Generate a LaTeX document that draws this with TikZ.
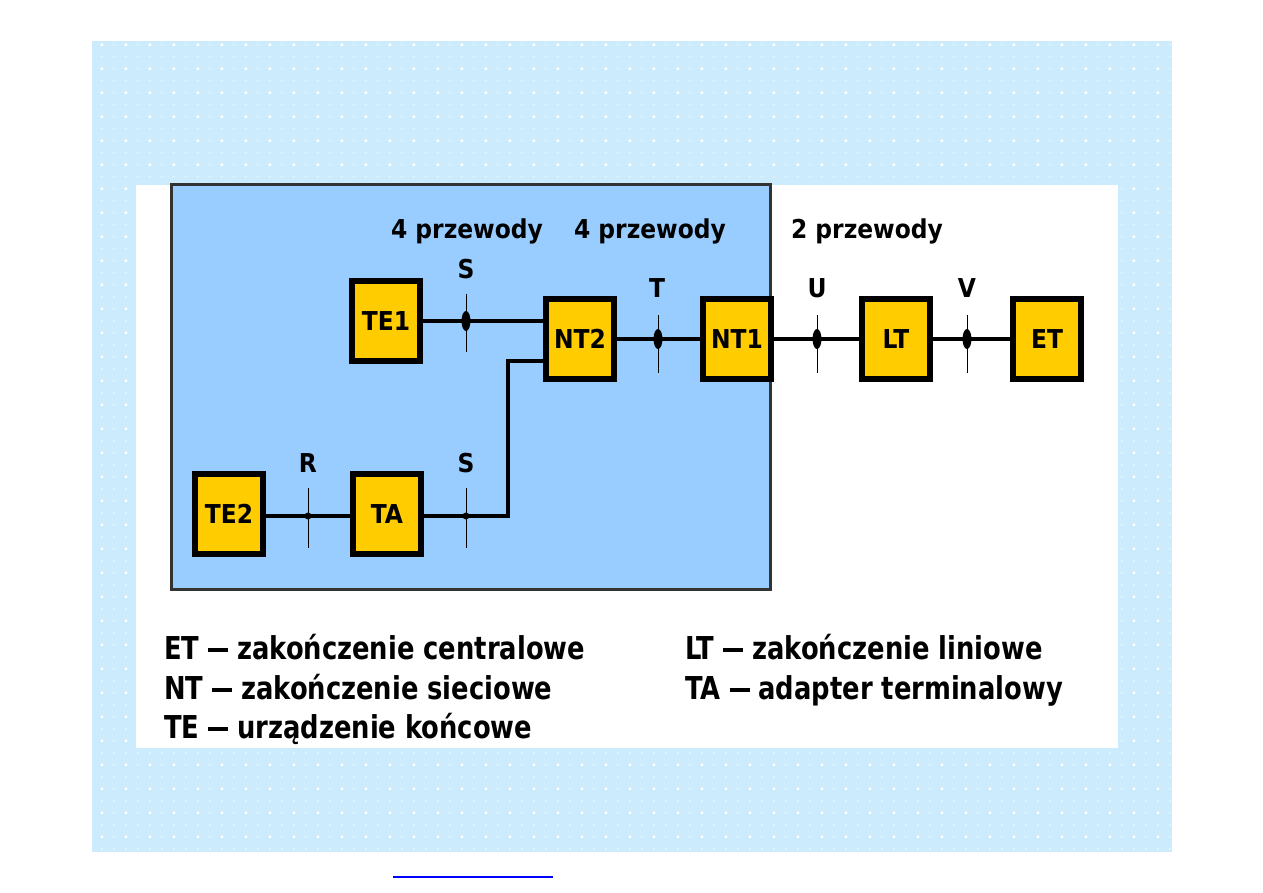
\documentclass[tikz,border=0pt]{standalone}
\usepackage{fontspec}
\setmainfont{DejaVu Sans Condensed}
\newfontfamily\keyfont[FakeStretch=0.91, Ligatures=TeX]{DejaVu Sans Condensed}
\newcommand\keydash{\rule[7.5pt]{20pt}{3.2pt}}
\definecolor{paleblue}{HTML}{CCEBFC}
\definecolor{boxblue}{HTML}{99CCFF}
\definecolor{isdnyellow}{HTML}{FFCC00}

\begin{document}
\begin{tikzpicture}[x=1pt, y=-1pt, every node/.style={font=\bfseries\fontsize{26}{30}\selectfont},
	unit/.style={draw, line width=6pt, fill=isdnyellow, minimum width=68pt, minimum height=80pt, inner sep=0pt},
	wire/.style={line width=3.5pt}, tick/.style={line width=1pt}, legend/.style={anchor=base west, inner sep=0pt, font=\keyfont\bfseries\fontsize{31.5}{36}\selectfont}]
	\useasboundingbox (0,0) rectangle (1263,893);
	% dotted background
	\fill[paleblue] (92,41) rectangle (1172,852);
	\fill[white, opacity=.6] \foreach \i in {0,...,89} {\foreach \j in {0,...,67} {(101+12*\i,44+12*\j) rectangle ++(1.5,1.5)}};
	\fill[white] \foreach \i in {0,...,44} {\foreach \j in {0,...,33} {(100.5+24*\i,43.5+24*\j) rectangle ++(2.5,2.5)}};
	\fill[white] (136,185) rectangle (1118,748);
	\draw[line width=3pt, draw=black!80, fill=boxblue] (171,185) rectangle (770,589);
	% units
	\node[unit] (te1) at (386,321) {TE1};
	\node[unit] (nt2) at (580,339) {NT2};
	\node[unit] (nt1) at (737,339) {NT1};
	\node[unit] (lt) at (896,339) {LT};
	\node[unit] (et) at (1047,339) {ET};
	\node[unit] (te2) at (229,514) {TE2};
	\node[unit] (ta) at (387,514) {TA};
	% wires
	\coordinate (elbow) at (508,516); \coordinate (nt2in) at (543,361);
	\draw[wire] (te1) -- (te1 -| nt2.west);
	\draw[wire] (nt2) -- (nt1);
	\draw[wire] (nt1) -- (lt);
	\draw[wire] (lt) -- (et);
	\draw[wire] (te2.east |- elbow) -- (ta.west |- elbow);
	\draw[wire] (ta.east |- elbow) -- (elbow) |- (nt2in);
	% reference points
	\coordinate (pS1) at (466,321); \coordinate (pT) at (658,339); \coordinate (pU) at (817,339);
	\coordinate (pV) at (967,339); \coordinate (pR) at (308,516); \coordinate (pS2) at (466,516);
	\draw[tick] ([yshift=27pt]pS1) -- ([yshift=-31pt]pS1); \fill (pS1) ellipse (4.5 and 10);
	\draw[tick] ([yshift=24pt]pT) -- ([yshift=-34pt]pT); \fill (pT) ellipse (4.5 and 10);
	\draw[tick] ([yshift=24pt]pU) -- ([yshift=-34pt]pU); \fill (pU) ellipse (4.5 and 10);
	\draw[tick] ([yshift=24pt]pV) -- ([yshift=-34pt]pV); \fill (pV) ellipse (4.5 and 10);
	\draw[tick] ([yshift=28pt]pR) -- ([yshift=-32pt]pR); \fill (pR) circle (3.5);
	\draw[tick] ([yshift=28pt]pS2) -- ([yshift=-32pt]pS2); \fill (pS2) circle (3.5);
	\node (lS1) at (466,269) {S};
	\node (lT) at (657,288) {T};
	\node (lU) at (817,288) {U};
	\node (lV) at (967,288) {V};
	\node (lR) at (308,463) {R};
	\node (lS2) at (466,463) {S};
	\node (w1) at (467,231) {4 przewody};
	\node (w2) at (650,231) {4 przewody};
	\node (w3) at (867,231) {2 przewody};
	% legend
	\node[legend] (kET) at (164,659) {ET \keydash{} zakończenie centralowe};
	\node[legend] (kNT) at (164,699) {NT \keydash{} zakończenie sieciowe};
	\node[legend] (kTE) at (164,738) {TE \keydash{} urządzenie końcowe};
	\node[legend] (kLT) at (685,659) {LT \keydash{} zakończenie liniowe};
	\node[legend] (kTA) at (685,699) {TA \keydash{} adapter terminalowy};
	\draw[blue, line width=2pt] (393,877) -- (553,877);
\end{tikzpicture}
\end{document}
